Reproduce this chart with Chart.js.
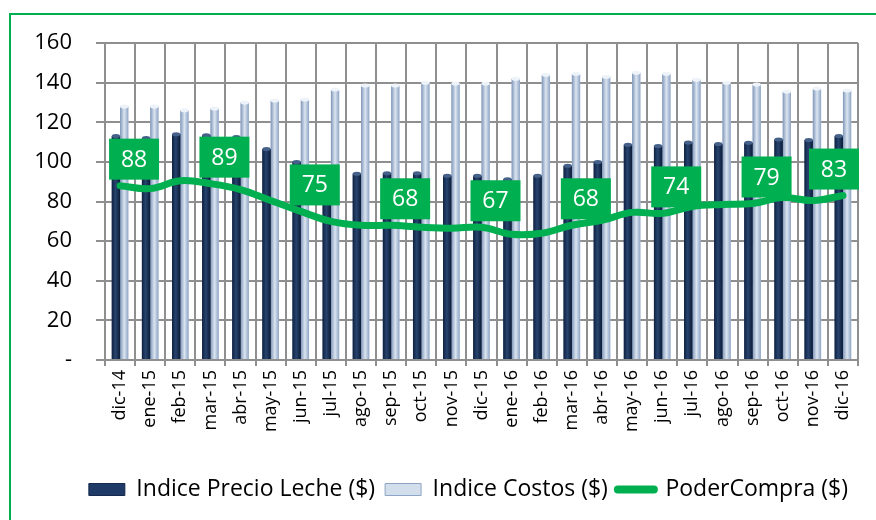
<!DOCTYPE html>
<html>
<head>
<meta charset="utf-8">
<script src="https://cdn.jsdelivr.net/npm/chart.js@4.4.0/dist/chart.umd.min.js"></script>
<style>
  html, body { margin: 0; padding: 0; background: #fff; }
  #wrap { position: relative; width: 876px; height: 520px; }
</style>
</head>
<body>
<div id="wrap"><canvas id="poderChart" width="876" height="520"></canvas></div>
<script>
var meses = ['dic-14', 'ene-15', 'feb-15', 'mar-15', 'abr-15', 'may-15', 'jun-15', 'jul-15', 'ago-15',
  'sep-15', 'oct-15', 'nov-15', 'dic-15', 'ene-16', 'feb-16', 'mar-16', 'abr-16', 'may-16', 'jun-16',
  'jul-16', 'ago-16', 'sep-16', 'oct-16', 'nov-16', 'dic-16'];
var precioLeche = [113, 112, 114, 113.5, 112.5, 106.5, 100, 95, 94, 94.3, 94.3, 93, 93, 91.2, 93, 98, 100,
  108.6, 108, 109.8, 109, 109.6, 111.3, 111, 113];
var costos = [128, 128, 126, 127, 130, 131, 131.5, 136.5, 138.5, 138.5, 140, 139.5, 139.5, 142, 144, 144.5,
  143, 145, 144.5, 141.5, 140, 139, 135.5, 137, 136];
var poderCompra = [88, 86.5, 90.5, 89, 86, 80.5, 75, 70, 68, 68, 67, 66.5, 67, 63.5, 64, 68, 70.5, 74.5, 74,
  77.5, 78.5, 79, 82, 80.5, 83];
var mesesConEtiqueta = ['dic-14', 'mar-15', 'jun-15', 'sep-15', 'dic-15', 'mar-16', 'jun-16', 'sep-16', 'dic-16'];
var yMin = 0, yMax = 160, yPaso = 20;

var verde = '#00b050';
var gris = '#8f8f8f';

Chart.defaults.font.family = "'Open Sans', sans-serif";
Chart.defaults.color = '#000';

// green frame around the whole chart
var marco = {
  id: 'marco',
  beforeDraw: function(chart) {
    var ctx = chart.ctx;
    ctx.save();
    ctx.strokeStyle = verde;
    ctx.lineWidth = 2;
    ctx.strokeRect(10, 14, 900, 600);
    ctx.restore();
  }
};

// paint the bars like little cylinders
var cilindros = {
  id: 'cilindros',
  afterDatasetDraw: function(chart, args) {
    var meta = args.meta;
    if (meta.type !== 'bar') return;
    var ctx = chart.ctx;
    var oscuro = args.index === 0;
    ctx.save();
    meta.data.forEach(function(bar) {
      var p = bar.getProps(['x', 'y', 'base', 'width'], true);
      var x0 = p.x - p.width / 2;
      var g = ctx.createLinearGradient(x0, 0, x0 + p.width, 0);
      if (oscuro) {
        g.addColorStop(0, '#0f2140');
        g.addColorStop(0.45, '#27446f');
        g.addColorStop(1, '#0c1b36');
      } else {
        g.addColorStop(0, '#7f96b8');
        g.addColorStop(0.5, '#dbe5f1');
        g.addColorStop(1, '#8ea4c4');
      }
      ctx.fillStyle = g;
      ctx.fillRect(x0, p.y, p.width, p.base - p.y);
      ctx.beginPath();
      ctx.ellipse(p.x, p.y, p.width / 2, 2, 0, 0, Math.PI * 2);
      ctx.fillStyle = oscuro ? '#456189' : '#eef3f9';
      ctx.fill();
    });
    ctx.restore();
  }
};

// green boxes with the value, every third month
var etiquetas = {
  id: 'etiquetas',
  afterDatasetsDraw: function(chart) {
    var ctx = chart.ctx;
    var meta = chart.getDatasetMeta(2);
    var area = chart.chartArea;
    ctx.save();
    ctx.font = "23px 'Open Sans'";
    ctx.textAlign = 'center';
    ctx.textBaseline = 'middle';
    meta.data.forEach(function(pt, i) {
      if (mesesConEtiqueta.indexOf(meses[i]) < 0) return;
      var w = 50, h = 41;
      var cx = Math.min(pt.x + 14, area.right + 1 - w / 2);
      var bottom = pt.y - 6;
      ctx.fillStyle = verde;
      ctx.fillRect(cx - w / 2, bottom - h, w, h);
      ctx.fillStyle = '#fff';
      ctx.fillText(Math.round(poderCompra[i]), cx, bottom - h / 2 + 1);
    });
    ctx.restore();
  }
};

var ctx = document.getElementById('poderChart').getContext('2d');
var chart = new Chart(ctx, {
  type: 'bar',
  data: {
    labels: meses,
    datasets: [
      {
        label: 'Indice Precio Leche ($)',
        data: precioLeche,
        backgroundColor: '#1c3560',
        categoryPercentage: 0.55,
        barPercentage: 1,
        order: 2
      },
      {
        label: 'Indice Costos ($)',
        data: costos,
        backgroundColor: '#c9d6e8',
        categoryPercentage: 0.55,
        barPercentage: 1,
        order: 2
      },
      {
        type: 'line',
        label: 'PoderCompra ($)',
        data: poderCompra,
        borderColor: verde,
        borderWidth: 7,
        borderCapStyle: 'round',
        tension: 0.4,
        pointRadius: 0,
        fill: false,
        order: 1
      }
    ]
  },
  options: {
    responsive: false,
    animation: false,
    layout: { padding: { top: 43, right: 18, bottom: 9, left: 30 } },
    plugins: {
      tooltip: { enabled: false },
      legend: {
        position: 'bottom',
        align: 'end',
        labels: {
          font: { size: 23 },
          usePointStyle: true,
          pointStyleWidth: 36,
          boxHeight: 12,
          padding: 10,
          generateLabels: function() {
            return [
              { text: 'Indice Precio Leche ($)', fillStyle: '#1f3a66', strokeStyle: '#152a4d', lineWidth: 1, pointStyle: 'rect', datasetIndex: 0 },
              { text: 'Indice Costos ($)', fillStyle: '#d3deec', strokeStyle: '#8ea4c4', lineWidth: 1, pointStyle: 'rect', datasetIndex: 1 },
              { text: 'PoderCompra ($)', fillStyle: verde, strokeStyle: verde, lineWidth: 8, lineCap: 'round', pointStyle: 'line', datasetIndex: 2 }
            ];
          }
        }
      }
    },
    scales: {
      x: {
        grid: { color: gris, lineWidth: 2, offset: true, tickLength: 6 },
        border: { color: gris, width: 2 },
        ticks: { font: { size: 18 }, minRotation: 90, maxRotation: 90, padding: 4, autoSkip: false },
        afterFit: function(scale) { scale.height = 108; }
      },
      y: {
        min: yMin,
        max: yMax,
        grid: { color: gris, lineWidth: 2, tickLength: 9 },
        border: { color: gris, width: 2 },
        ticks: {
          stepSize: yPaso,
          font: { size: 22 },
          padding: 24,
          callback: function(v) { return v === 0 ? '-' : v; }
        },
        afterFit: function(scale) { scale.width = 75; }
      }
    }
  },
  plugins: [marco, cilindros, etiquetas]
});
</script>
</body>
</html>
